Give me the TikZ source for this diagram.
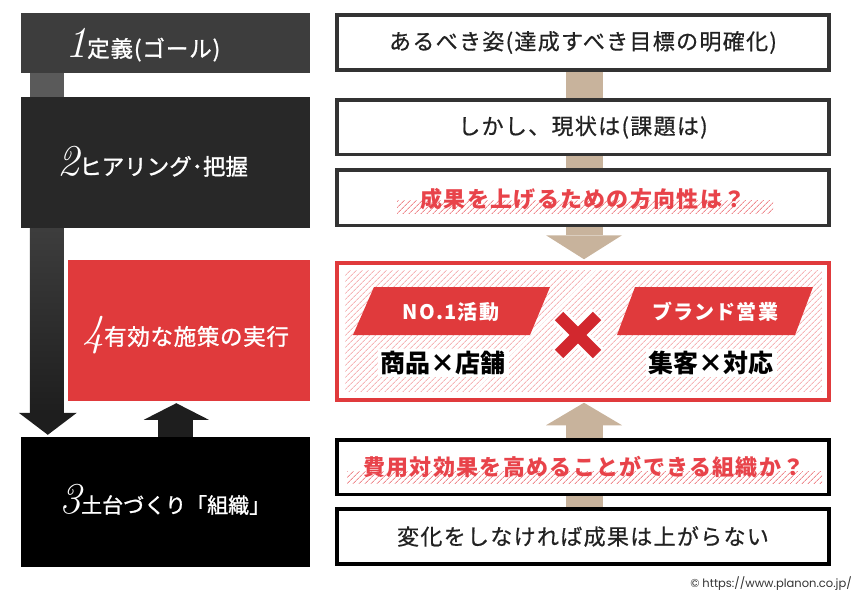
\documentclass[tikz,border=0pt]{standalone}
\usepackage{fontspec}
\usetikzlibrary{calc,patterns.meta}
\newfontfamily\jp{Noto Sans CJK JP}
\newfontfamily\copyfont{Poppins}
\definecolor{boxA}{HTML}{3D3D3D}
\definecolor{boxB}{HTML}{282828}
\definecolor{conngrey}{HTML}{5A5A5A}
\definecolor{arrowblk}{HTML}{1E1E1E}
\definecolor{redmain}{HTML}{E03A3C}
\definecolor{xred}{HTML}{D2282E}
\definecolor{tanc}{HTML}{C8B39C}
\definecolor{framec}{HTML}{333333}
\definecolor{redtext}{HTML}{E8434A}
\definecolor{hatchlight}{HTML}{F6B4B6}
\definecolor{hatchmid}{HTML}{EF8A8E}
\definecolor{txt}{HTML}{222222}
\newcommand{\mklabel}[3]{{\fontsize{44}{44}\selectfont\itshape #1}{\jp\addfontfeature{LetterSpace=#3,FakeBold=1.2}\fontsize{22.5}{22.5}\selectfont #2}}
\begin{document}
\begin{tikzpicture}[x=1pt,y=-1pt,
  leftbox/.style={rectangle, inner sep=0pt, minimum width=289pt},
  rightbox/.style={rectangle, draw=framec, line width=3.5pt, fill=white, minimum width=492pt, minimum height=55pt, inner sep=0pt, text=txt,
     font=\jp\addfontfeature{LetterSpace=6,FakeBold=0.6}\fontsize{22}{22}\selectfont},
  numlabel/.style={anchor=base west, inner sep=0pt, text=white},
  redq/.style={anchor=base, inner sep=0pt, text=redtext, font=\jp\bfseries\addfontfeature{LetterSpace=6}\fontsize{22}{22}\selectfont},
  bigtxt/.style={fill=white, inner xsep=3pt, inner ysep=2pt, text=black, font=\jp\bfseries\fontsize{25}{25}\selectfont},
  tagtxt/.style={anchor=base, inner sep=0pt, text=white, font=\jp\bfseries\addfontfeature{LetterSpace=6}\fontsize{20}{20}\selectfont},
  tanconn/.style={draw=tanc, line width=37pt},
  hatchband/.style={pattern={Lines[angle=45,distance=4pt,line width=0.9pt]}, pattern color=hatchmid},
  hatcharea/.style={pattern={Lines[angle=45,distance=4pt,line width=0.9pt]}, pattern color=hatchlight}
]
\useasboundingbox (0,0) rectangle (860,597);

% ---------- left column ----------
\node[leftbox, fill=boxA, minimum height=60pt] (b1) at (165.5,43) {};
\node[leftbox, fill=boxB, minimum height=131pt] (b2) at (165.5,162.5) {};
\node[rectangle, inner sep=0pt, fill=redmain, minimum width=242pt, minimum height=141pt] (b4) at (189,330.5) {};
\node[leftbox, fill=black, minimum height=130pt] (b3) at (165.5,502) {};

\coordinate (lx) at (47,0);
\draw[conngrey, line width=34pt] (b1.south -| lx) -- (b2.north -| lx);
\shade[top color=boxA, bottom color=arrowblk] ($(b2.south west)+(9,0)$) rectangle ($(b3.north west)+(43,-24)$);
\fill[arrowblk] ($(b3.north west)+(-2,-24)$) -- ($(b3.north west)+(56,-24)$) -- ($(b3.north west)+(27,-2)$) -- cycle;
\fill[arrowblk] ($(b3.north west)+(137,0)$) rectangle ($(b3.north west)+(172,-17)$);
\fill[arrowblk] ($(b3.north west)+(123,-17)$) -- ($(b3.north west)+(188,-17)$) -- ($(b4.south west)+(108.5,2)$) -- cycle;

\node[numlabel] (t1) at (65,57) {\mklabel{1}{定義(ゴール)}{4}};
\node[numlabel] (t2) at (57,175) {\mklabel{2}{ヒアリング･把握}{0}};
\node[numlabel] (t4) at (82,345) {\mklabel{4}{有効な施策の実行}{3}};
\node[numlabel] (t3) at (59,513) {{\fontsize{44}{44}\selectfont\itshape 3}{\jp\addfontfeature{FakeBold=1.2}\fontsize{21}{21}\selectfont 土台づくり「組織」}};

% ---------- right column connectors ----------
\coordinate (ax) at (584,0);
\draw[tanconn] (584,42.5) -- (584,127.25);
\draw[tanconn] (584,127.25) -- (584,197.75);
\draw[tanconn] (584,467.25) -- (584,536.5);

% ---------- right column boxes ----------
\node[rightbox] (A) at (583,42.5) {あるべき姿(達成すべき目標の明確化)};
\node[rightbox, minimum height=54.5pt] (B) at (583,127.25) {しかし、現状は(課題は)};
\node[rightbox, minimum height=55.5pt] (C) at (583,197.75) {};
\node[rightbox, draw=redmain, minimum height=137pt] (R) at (583,331.5) {};
\node[rightbox, draw=black, minimum height=54.5pt] (D) at (583,467.25) {};
\node[rightbox, draw=black] (E) at (583,536.5) {変化をしなければ成果は上がらない};

% tan block arrows
\fill[tanc] ($(C.south -| ax)+(-18.5,0)$) rectangle ($(C.south -| ax)+(18.5,8)$);
\fill[tanc] ($(C.south -| ax)+(-38,8)$) -- ($(C.south -| ax)+(38,8)$) -- ($(R.north -| ax)+(0,-2)$) -- cycle;
\fill[tanc] ($(D.north -| ax)+(-18.5,0)$) rectangle ($(D.north -| ax)+(18.5,-13)$);
\fill[tanc] ($(D.north -| ax)+(-38,-13)$) -- ($(D.north -| ax)+(38,-13)$) -- ($(R.south -| ax)+(0,1)$) -- cycle;

% questions with hatch band
\fill[hatchband] ($(C.center)+(-186,3)$) rectangle ($(C.center)+(190,16)$);
\node[redq] (qC) at (583,207) {成果を上げるための方向性は？};
\fill[hatchband] ($(D.center)+(-236,4)$) rectangle ($(D.center)+(239,16)$);
\node[redq] (qD) at (584,475) {費用対効果を高めることができる組織か？};

% red box content
\fill[hatcharea] ($(R.north west)+(10,9)$) rectangle ($(R.south east)+(-9,-10)$);
\fill[redmain] (374,287) -- (550,287) -- (530,335) -- (353,335) -- cycle;
\fill[redmain] (635,287) -- (813,287) -- (795,335) -- (617,335) -- cycle;
\node[tagtxt] (tagL) at (451,319) {NO.1活動};
\node[tagtxt] (tagR) at (715,319) {ブランド営業};
\node[bigtxt] (bL) at (443,363) {商品×店舗};
\node[bigtxt] (bR) at (711,363) {集客×対応};
\draw[white, line width=18pt] (558,315) -- (598,355);
\draw[white, line width=18pt] (598,315) -- (558,355);
\draw[xred, line width=12pt] (559,316) -- (597,354);
\draw[xred, line width=12pt] (597,316) -- (559,354);

% copyright
\node[anchor=base east, inner sep=0pt, text=framec, font=\copyfont\fontsize{11.5}{11.5}\selectfont] (copy) at (852,587) {© https://www.planon.co.jp/};
\end{tikzpicture}
\end{document}
